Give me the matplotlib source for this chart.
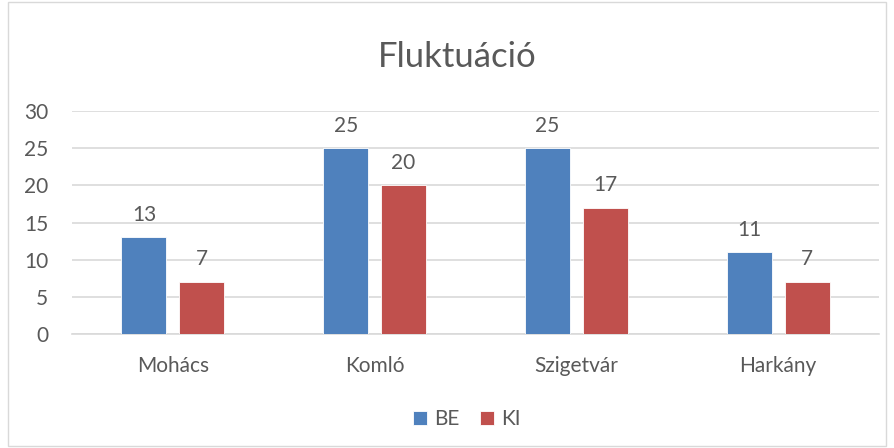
import matplotlib.pyplot as plt
from matplotlib.patches import Rectangle
import numpy as np

plt.rcParams['font.family'] = ['Lato', 'DejaVu Sans']

# data
cities = ['Mohács', 'Komló', 'Szigetvár', 'Harkány']
be = [13, 25, 25, 11]
ki = [7, 20, 17, 7]

blue = '#4F81BD'
red = '#C0504D'
txt = '#595959'

fig = plt.figure(figsize=(8.94, 4.48), dpi=100)
ax = fig.add_axes([72 / 894, 1 - 334 / 448, 807 / 894, 223 / 448])

x = np.arange(len(cities))
w = 0.223
off = 0.1436
b1 = ax.bar(x - off, be, w, color=blue, edgecolor='white', linewidth=0.6, label='BE', zorder=3)
b2 = ax.bar(x + off, ki, w, color=red, edgecolor='white', linewidth=0.6, label='KI', zorder=3)
ax.bar_label(b1, padding=9, fontsize=15, color=txt)
ax.bar_label(b2, padding=9, fontsize=15, color=txt)

ax.set_xlim(-0.5, len(cities) - 0.5)
ax.set_ylim(0, 30)
ax.set_yticks(range(0, 31, 5))
ax.set_xticks(x)
ax.set_xticklabels(cities)
ax.tick_params(axis='both', length=0, labelsize=15, labelcolor=txt)
ax.tick_params(axis='y', pad=17)
ax.tick_params(axis='x', pad=16)
ax.grid(axis='y', color='#D9D9D9', linewidth=1.2, zorder=0)
for s in ['top', 'right', 'left']:
    ax.spines[s].set_visible(False)
ax.spines['bottom'].set_color('#D9D9D9')
ax.spines['bottom'].set_linewidth(1.2)

fig.text(0.511, 1 - 57 / 448, 'Fluktuáció', ha='center', va='center', fontsize=25, color=txt)

fig.legend(handles=[b1, b2], loc='center', bbox_to_anchor=(0.522, 1 - 419 / 448), ncol=2,
           frameon=False, fontsize=15, labelcolor=txt, handlelength=0.65, handleheight=0.65,
           handletextpad=0.35, columnspacing=1.0)

fig.patches.append(Rectangle((8 / 894, 2 / 448), 878 / 894, 444 / 448, transform=fig.transFigure,
                             fill=False, edgecolor='#D9D9D9', linewidth=1))

plt.savefig('out.png')
